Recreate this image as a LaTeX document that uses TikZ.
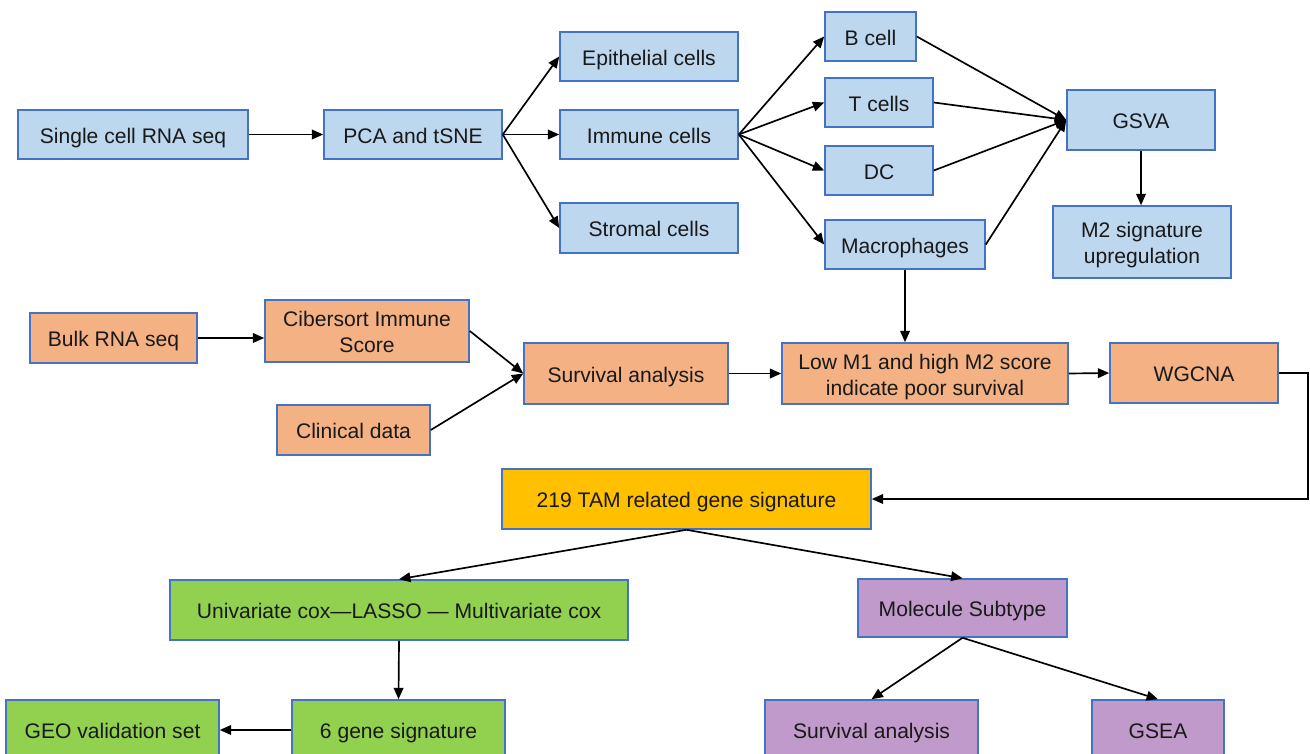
\documentclass[tikz,border=0pt]{standalone}
\usepackage{fontspec}
\setmainfont{Liberation Sans}
\usetikzlibrary{arrows.meta}
\definecolor{bfill}{HTML}{BDD7EE}
\definecolor{ofill}{HTML}{F4B183}
\definecolor{gfill}{HTML}{92D050}
\definecolor{yfill}{HTML}{FFC000}
\definecolor{pfill}{HTML}{C09ACA}
\definecolor{edge}{HTML}{4472C4}
\tikzset{
  box/.style={draw=edge, line width=0.9pt, inner sep=0pt, align=center, font=\fontsize{12}{14.8}\selectfont, text=black!90, text height=10pt, text depth=0pt},
  two/.style={text height=24.6pt, text depth=0pt},
  bl/.style={box, fill=bfill},
  or/.style={box, fill=ofill},
  gr/.style={box, fill=gfill},
  ye/.style={box, fill=yfill},
  pu/.style={box, fill=pfill},
  arr/.style={line width=0.95pt, -{Triangle[length=6.5pt,width=5.5pt]}},
}
\begin{document}
\begin{tikzpicture}[x=0.02cm, y=-0.02cm]
\clip (0,0) rectangle (1310,753);
% blue
\node[bl, minimum width=4.6cm, minimum height=0.98cm] (sc) at (133,134.5) {Single cell RNA seq};
\node[bl, minimum width=3.56cm, minimum height=0.98cm] (pca) at (413,134.5) {PCA and tSNE};
\node[bl, minimum width=3.56cm, minimum height=0.98cm] (epi) at (649,56.5) {Epithelial cells};
\node[bl, minimum width=3.56cm, minimum height=0.98cm] (imm) at (649,134.5) {Immune cells};
\node[bl, minimum width=3.56cm, minimum height=1.0cm] (str) at (649,228) {Stromal cells};
\node[bl, minimum width=1.82cm, minimum height=0.98cm] (bc) at (870.5,36.5) {B cell};
\node[bl, minimum width=2.16cm, minimum height=0.98cm] (tc) at (879,102.5) {T cells};
\node[bl, minimum width=2.16cm, minimum height=0.98cm] (dc) at (879,170.5) {DC};
\node[bl, minimum width=3.2cm, minimum height=0.98cm] (mac) at (905,244.5) {Macrophages};
\node[bl, minimum width=2.96cm, minimum height=1.2cm] (gsva) at (1141,120) {GSVA};
\node[bl, two, minimum width=3.56cm, minimum height=1.44cm] (m2) at (1142,242) {M2 signature\\upregulation};
% orange
\node[or, minimum width=3.34cm, minimum height=1.0cm] (bulk) at (113.5,338) {Bulk RNA seq};
\node[or, two, minimum width=4.08cm, minimum height=1.24cm] (cib) at (367,331) {Cibersort Immune\\Score};
\node[or, minimum width=3.06cm, minimum height=1.0cm] (clin) at (353.5,430) {Clinical data};
\node[or, minimum width=4.08cm, minimum height=1.22cm] (surv) at (626,373.5) {Survival analysis};
\node[or, two, minimum width=5.72cm, minimum height=1.22cm] (low) at (925,373.5) {Low M1 and high M2 score\\indicate poor survival};
\node[or, minimum width=3.36cm, minimum height=1.2cm] (wg) at (1194,373) {WGCNA};
% yellow
\node[ye, minimum width=7.38cm, minimum height=1.2cm] (tam) at (686.5,499) {219 TAM related gene signature};
% green
\node[gr, minimum width=9.16cm, minimum height=1.2cm] (uni) at (399,610) {Univariate cox---LASSO --- Multivariate cox};
\node[gr, minimum width=4.26cm, minimum height=1.2cm] (geo) at (112.5,730) {GEO validation set};
\node[gr, minimum width=4.26cm, minimum height=1.2cm] (six) at (398.5,730) {6 gene signature};
% purple
\node[pu, minimum width=4.18cm, minimum height=1.16cm] (mol) at (962.5,608) {Molecule Subtype};
\node[pu, minimum width=4.26cm, minimum height=1.2cm] (sv2) at (871.5,730) {Survival analysis};
\node[pu, minimum width=2.64cm, minimum height=1.2cm] (gsea) at (1158,730) {GSEA};
% arrows
\draw[arr] (sc.east) -- (pca.west);
\draw[arr] (pca.east) -- (epi.west);
\draw[arr] (pca.east) -- (imm.west);
\draw[arr] (pca.east) -- (str.west);
\draw[arr] (imm.east) -- (bc.west);
\draw[arr] (imm.east) -- (tc.west);
\draw[arr] (imm.east) -- (dc.west);
\draw[arr] (imm.east) -- (mac.west);
\draw[arr] (bc.east) -- (gsva.west);
\draw[arr] (tc.east) -- (gsva.west);
\draw[arr] (dc.east) -- (gsva.west);
\draw[arr] (mac.east) -- (gsva.west);
\draw[arr] (gsva.south) -- (gsva.south |- m2.north);
\draw[arr] (mac.south) -- (mac.south |- low.north);
\draw[arr] (bulk.east) -- (bulk.east -| cib.west);
\draw[arr] (cib.east) -- (surv.west);
\draw[arr] (clin.east) -- (surv.west);
\draw[arr] (surv.east) -- (low.west);
\draw[arr] (low.east) -- (wg.west);
\coordinate (rc) at (1308,373);
\draw[arr] (wg.east) -- (rc) -- (rc |- tam.east) -- (tam.east);
\draw[arr] (tam.south) -- (uni.north);
\draw[arr] (tam.south) -- (mol.north);
\draw[arr] (uni.south) -- (six.north);
\draw[arr] (six.west) -- (geo.east);
\draw[arr] (mol.south) -- (sv2.north);
\draw[arr] (mol.south) -- (gsea.north);
\end{tikzpicture}
\end{document}
